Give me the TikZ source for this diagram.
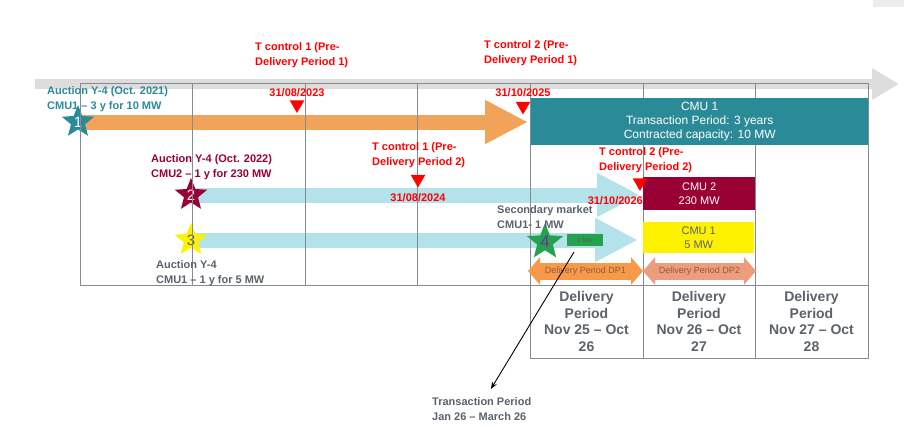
\documentclass[tikz,border=0pt]{standalone}
\usepackage{fontspec}
\setmainfont{Liberation Sans}
\usetikzlibrary{positioning}
\usetikzlibrary{arrows.meta, shapes.geometric}

\definecolor{cmuteal}{HTML}{2A8A98}
\definecolor{cmumaroon}{HTML}{990033}
\definecolor{arroworange}{HTML}{F2A35A}
\definecolor{arrowblue}{HTML}{B4E2EA}
\definecolor{gridgray}{HTML}{858B91}
\definecolor{txtgray}{HTML}{5A626B}
\definecolor{dpone}{HTML}{F7994A}
\definecolor{dptwo}{HTML}{EE9C7E}
\definecolor{dptext}{HTML}{8E5A3A}
\definecolor{mktgreen}{HTML}{25A24E}
\definecolor{timegray}{HTML}{DDDDDD}
\definecolor{numviolet}{HTML}{7030A0}

\tikzset{
  lbl/.style={font=\bfseries\fontsize{11}{14.5}\selectfont, align=left, inner sep=0pt, anchor=west},
  datelbl/.style={font=\bfseries\fontsize{11}{12}\selectfont, text=red, inner sep=0pt},
  tmark/.style={regular polygon, regular polygon sides=3, shape border rotate=180, fill=red, minimum size=17pt, inner sep=0pt},
  auction/.style={star, star points=5, star point ratio=2.3, minimum size=34pt, inner sep=0pt, font=\fontsize{15}{15}\selectfont},
  cmubox/.style={rectangle, anchor=north west, inner sep=0pt, align=center},
  band/.style={line width=15pt, -{Triangle[width=41pt,length=43pt]}},
  dparrow/.style={line width=17pt, {Triangle[width=27pt,length=12pt]}-{Triangle[width=27pt,length=12pt]}},
  dplbl/.style={font=\fontsize{9}{10}\selectfont, text=dptext, inner sep=0pt},
  period/.style={font=\bfseries\fontsize{14}{16.5}\selectfont, text=txtgray, align=center, inner sep=0pt},
  gridline/.style={gridgray, line width=0.8pt},
}

\begin{document}
\begin{tikzpicture}[x=1pt, y=-1pt]
\useasboundingbox (0,0) rectangle (904,426);
\fill[black!7] (873,0) rectangle (904,7);

% time axis
\coordinate (t0) at (35,84);
\coordinate (t1) at (899,84);
\draw[timegray, line width=10pt, -{Triangle[width=30pt,length=27pt]}] (t0) -- (t1);

% auction bands
\coordinate (a1) at (78,122);
\coordinate (e1) at (528,122);
\coordinate (a2) at (191,195);
\coordinate (e2) at (640,195);
\coordinate (a3) at (191,240);
\coordinate (e3) at (638,240);
\draw[band, arroworange] (a1) -- (e1);
\draw[band, arrowblue] (a2) -- (e2);
\draw[band, arrowblue] (a3) -- (e3);

% auctions
\node[auction, fill=cmuteal, text=white] (s1) at (a1) {1};
\node[auction, fill=cmumaroon, text=white] (s2) at (a2) {2};
\node[auction, fill=yellow, text=txtgray] (s3) at (a3) {3};

% grid
\draw[gridline] (80,83) rectangle (868,285);
\foreach \x in {192.6,305.1,417.7,530.3,642.9,755.4}
  \draw[gridline] (\x,83) -- (\x,285);
\draw[gridline] (530.3,285) rectangle (868,358);
\foreach \x in {642.9,755.4}
  \draw[gridline] (\x,285) -- (\x,358);

% contracted units
\node[cmubox, fill=cmuteal, text=white, minimum width=337pt, minimum height=47pt,
  font=\fontsize{12}{14}\selectfont] (cmuA) at (531,98)
  {CMU 1\\Transaction Period: 3 years\\Contracted capacity: 10 MW};
\node[cmubox, fill=cmumaroon, text=white, minimum width=112pt, minimum height=33pt,
  font=\fontsize{11}{13.5}\selectfont] (cmuB) at (643,177) {CMU 2\\230 MW};
\node[cmubox, fill=yellow, text=txtgray, minimum width=111pt, minimum height=31pt,
  font=\fontsize{11}{14}\selectfont] (cmuC) at (643,222) {CMU 1\\5 MW};

% delivery periods
\coordinate (d0) at (528,271);
\coordinate (d1) at (643,271);
\coordinate (d2) at (756,271);
\draw[dparrow, dpone] (d0) -- node[dplbl] (dpA) {Delivery Period DP1} (d1);
\draw[dparrow, dptwo] (d1) -- node[dplbl] (dpB) {Delivery Period DP2} (d2);

\node[period] (perA) at (586.5,321.5) {Delivery\\Period\\Nov 25 – Oct\\26};
\node[period] (perB) at (699,321.5) {Delivery\\Period\\Nov 26 – Oct\\27};
\node[period] (perC) at (811.5,321.5) {Delivery\\Period\\Nov 27 – Oct\\28};

% secondary market
\node[fill=mktgreen, minimum width=36pt, minimum height=12pt, inner sep=0pt,
  font=\fontsize{6}{6}\selectfont, text=black!65] (mw) at (585,240) {1 MW};
\node[auction, fill=mktgreen, text=numviolet, font=\fontsize{17}{17}\selectfont] (s4) at (545,242) {4};

\node[lbl, text=cmuteal] (aucA) at (47,99) {Auction Y-4 (Oct. 2021)\\CMU1 – 3 y for 10 MW};
\node[lbl, text=cmumaroon] (aucB) at (151,167) {Auction Y-4 (Oct. 2022)\\CMU2 – 1 y for 230 MW};
\node[lbl, text=txtgray] (aucC) at (156,273) {Auction Y-4\\CMU1 – 1 y for 5 MW};
\node[lbl, text=txtgray] (sec) at (497,217) {Secondary market\\CMU1- 1 MW};

% control dates
\node[tmark] (tc1) at (297,104.5) {};
\node[tmark] (tc2) at (523,106) {};
\node[tmark] (tc3) at (418,179) {};
\node[tmark] (tc4) at (640,182.5) {};
\node[datelbl, above=3pt of tc1] (dt1) {31/08/2023};
\node[datelbl, above=5pt of tc2] (dt2) {31/10/2025};
\node[datelbl, below=5pt of tc3] (dt3) {31/08/2024};
\node[datelbl, anchor=east] (dt4) at (643,201) {31/10/2026};
\node[lbl, text=red] (ctA) at (255,55) {T control 1 (Pre-\\Delivery Period 1)};
\node[lbl, text=red] (ctB) at (484,53) {T control 2 (Pre-\\Delivery Period 1)};
\node[lbl, text=red] (ctC) at (372,155) {T control 1 (Pre-\\Delivery Period 2)};
\node[lbl, text=red] (ctD) at (599,160) {T control 2 (Pre-\\Delivery Period 2)};

% transaction period
\node[lbl, text=txtgray] (trP) at (432,409) {Transaction Period\\Jan 26 – March 26};
\coordinate (trS) at (574,252);
\draw[-{Stealth[length=7pt]}, line width=0.9pt, shorten >=10pt] (trS) -- ([xshift=4pt]trP.north);

\end{tikzpicture}
\end{document}
